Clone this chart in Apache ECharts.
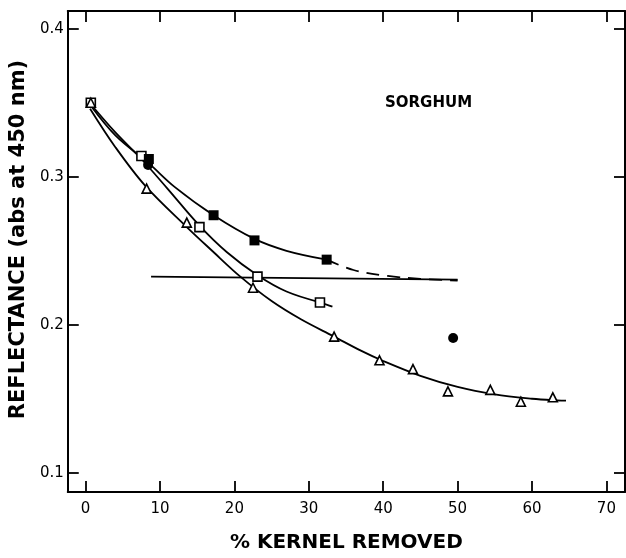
<!DOCTYPE html>
<html>
<head>
<meta charset="utf-8">
<script src="https://cdn.jsdelivr.net/npm/echarts@6/dist/echarts.min.js"></script>
<style>
html,body{margin:0;padding:0;background:#fff;}
#c{width:626px;height:558px;}
</style>
</head>
<body>
<div id="c"></div>
<script>
// ---- tick labels ----
const xTicks = [0, 10, 20, 30, 40, 50, 60, 70];
const yTicks = [0.1, 0.2, 0.3, 0.4];

// ---- measured points ----
const openSquares   = [[0.7, 0.350], [7.5, 0.314], [15.3, 0.266], [23.1, 0.2325], [31.5, 0.215]];
const filledSquares = [[8.5, 0.312], [17.2, 0.274], [22.7, 0.257], [32.4, 0.244]];
const triangles     = [[0.7, 0.350], [8.2, 0.292], [13.6, 0.269], [22.5, 0.225], [33.4, 0.192],
                       [39.5, 0.176], [44.0, 0.170], [48.7, 0.155], [54.4, 0.156], [58.5, 0.148], [62.8, 0.151]];
const filledCircles = [[8.4, 0.308], [49.4, 0.191]];

// ---- fitted curves ----
const filledCurveSolid = [[0.7, 0.348], [4, 0.328], [8.5, 0.309], [12, 0.293], [17.2, 0.274], [22.7, 0.258], [27, 0.250], [32.4, 0.244]];
const filledCurveDash  = [[32.4, 0.244], [36, 0.237], [40.6, 0.233], [45, 0.231], [50, 0.2299]];
const openCurveSolid   = [[0.7, 0.349], [4, 0.330], [7.5, 0.312], [11, 0.292], [15.3, 0.267], [19, 0.249], [23.1, 0.2335], [27, 0.2225], [31.5, 0.2152]];
const openCurveDash    = [[31.5, 0.2152], [34, 0.2107]];
const triCurveSolid    = [[0.6, 0.346], [4, 0.320], [8, 0.294], [13.6, 0.266], [17, 0.250], [20.8, 0.2325], [25, 0.216], [29, 0.2035],
                          [33.4, 0.192], [37, 0.1825], [40, 0.1755], [45, 0.1655], [50, 0.158], [55, 0.153], [60, 0.150], [62.8, 0.149]];
const triCurveDash     = [[62.8, 0.149], [65.1, 0.1486]];
const levelLine        = [[8.8, 0.2325], [50, 0.2305]];

const FONT = 'DejaVu Sans';
const chart = echarts.init(document.getElementById('c'), null, {renderer: 'canvas'});

function curve(data, dashed) {
  return {
    type: 'line', data: data, smooth: 0.35, showSymbol: false, symbol: 'none',
    lineStyle: {color: '#000', width: 1.8, type: dashed ? [13, 8] : 'solid'},
    z: 2, silent: true, animation: false
  };
}
function marks(data, symbol, size, filled) {
  return {
    type: 'scatter', data: data, symbol: symbol, symbolSize: size,
    itemStyle: filled ? {color: '#000', opacity: 1} : {color: '#fff', borderColor: '#000', borderWidth: 1.6, opacity: 1},
    z: 5, silent: true, animation: false
  };
}

const axisCommon = {
  axisLine: {show: true, onZero: false, lineStyle: {color: '#000', width: 2}},
  splitLine: {show: false}
};

chart.setOption({
  animation: false,
  backgroundColor: '#fff',
  grid: {left: 65, right: 1, top: 11, bottom: 60},
  xAxis: [
    Object.assign({
      type: 'value', min: -2.4, max: 72.5, position: 'bottom',
      axisTick: {show: true, inside: true, length: 11, customValues: xTicks, lineStyle: {color: '#000', width: 1.8}},
      axisLabel: {show: true, customValues: xTicks, margin: 10, color: '#000', fontFamily: FONT, fontSize: 15, formatter: v => String(v)},
      name: '% KERNEL REMOVED', nameLocation: 'middle', nameGap: 41,
      nameTextStyle: {color: '#000', fontFamily: FONT, fontSize: 20, fontWeight: 'bold'}
    }, axisCommon),
    Object.assign({
      type: 'value', min: -2.4, max: 72.5, position: 'top',
      axisTick: {show: true, inside: true, length: 11, customValues: xTicks, lineStyle: {color: '#000', width: 1.8}},
      axisLabel: {show: false}
    }, axisCommon)
  ],
  yAxis: [
    Object.assign({
      type: 'value', min: 0.087, max: 0.412, position: 'left',
      axisTick: {show: true, inside: true, length: 11, customValues: yTicks, lineStyle: {color: '#000', width: 1.8}},
      axisLabel: {show: true, customValues: yTicks, margin: 4, color: '#000', fontFamily: FONT, fontSize: 15, formatter: v => v.toFixed(1)},
      name: 'REFLECTANCE (abs at 450 nm)', nameLocation: 'middle', nameGap: 35, nameRotate: 90,
      nameTextStyle: {color: '#000', fontFamily: FONT, fontSize: 21, fontWeight: 'bold', padding: [0, 0, 0, 24]}
    }, axisCommon),
    Object.assign({
      type: 'value', min: 0.087, max: 0.412, position: 'right',
      axisTick: {show: true, inside: true, length: 11, customValues: yTicks, lineStyle: {color: '#000', width: 1.8}},
      axisLabel: {show: false}
    }, axisCommon)
  ],
  graphic: [{
    type: 'text', left: 385, top: 96,
    style: {text: 'SORGHUM', fill: '#000', font: 'bold 15px "DejaVu Sans"'}
  }],
  series: [
    curve(filledCurveSolid, false),
    curve(filledCurveDash, true),
    curve(openCurveSolid, false),
    curve(openCurveDash, true),
    curve(triCurveSolid, false),
    curve(triCurveDash, true),
    curve(levelLine, false),
    marks(filledCircles, 'circle', 10, true),
    marks(openSquares, 'rect', 9, false),
    marks(filledSquares, 'rect', 10, true),
    marks(triangles, 'triangle', 9, false)
  ]
});
</script>
</body>
</html>
